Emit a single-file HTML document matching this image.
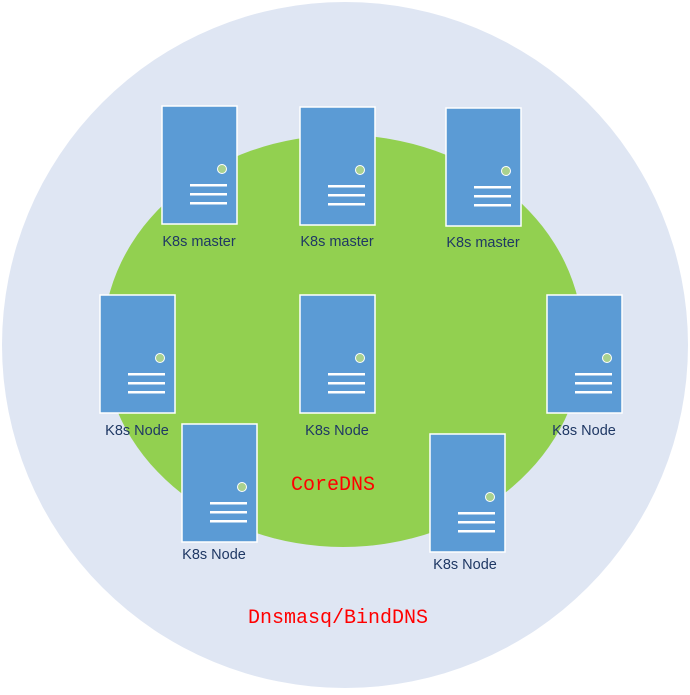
<!DOCTYPE html>
<html><head><style>
body{margin:0;width:690px;height:690px;background:#fff;overflow:hidden}
</style></head><body>
<svg width="690" height="690" xmlns="http://www.w3.org/2000/svg">
<defs>
<g id="srv">
<rect x="0" y="0" width="75" height="118" fill="#5b9bd5" stroke="#fff" stroke-width="1.5"/>
<circle cx="60" cy="63" r="4.5" fill="#a9d18e" stroke="#fff" stroke-width="1"/>
<rect x="28" y="78" width="37" height="2.5" fill="#fff"/>
<rect x="28" y="87" width="37" height="2.5" fill="#fff"/>
<rect x="28" y="96" width="37" height="2.5" fill="#fff"/>
</g>
</defs>
<circle cx="345" cy="345" r="343" fill="#dfe6f3"/>
<ellipse cx="343" cy="341" rx="240" ry="206" fill="#92d050"/>
<use href="#srv" x="162" y="106"/>
<use href="#srv" x="300" y="107"/>
<use href="#srv" x="446" y="108"/>
<use href="#srv" x="100" y="295"/>
<use href="#srv" x="300" y="295"/>
<use href="#srv" x="547" y="295"/>
<use href="#srv" x="182" y="424"/>
<use href="#srv" x="430" y="434"/>
<g font-family="Liberation Sans, sans-serif" font-size="14.5" fill="#1f3864" text-anchor="middle">
<text x="199" y="246">K8s master</text>
<text x="337" y="246">K8s master</text>
<text x="483" y="247">K8s master</text>
<text x="137" y="435">K8s Node</text>
<text x="337" y="435">K8s Node</text>
<text x="584" y="435">K8s Node</text>
<text x="214" y="559">K8s Node</text>
<text x="465" y="569">K8s Node</text>
</g>
<g font-family="Liberation Mono, monospace" font-size="20" fill="#ff0000" text-anchor="middle">
<text x="333" y="490">CoreDNS</text>
<text x="338" y="623">Dnsmasq/BindDNS</text>
</g>
</svg>
</body></html>
